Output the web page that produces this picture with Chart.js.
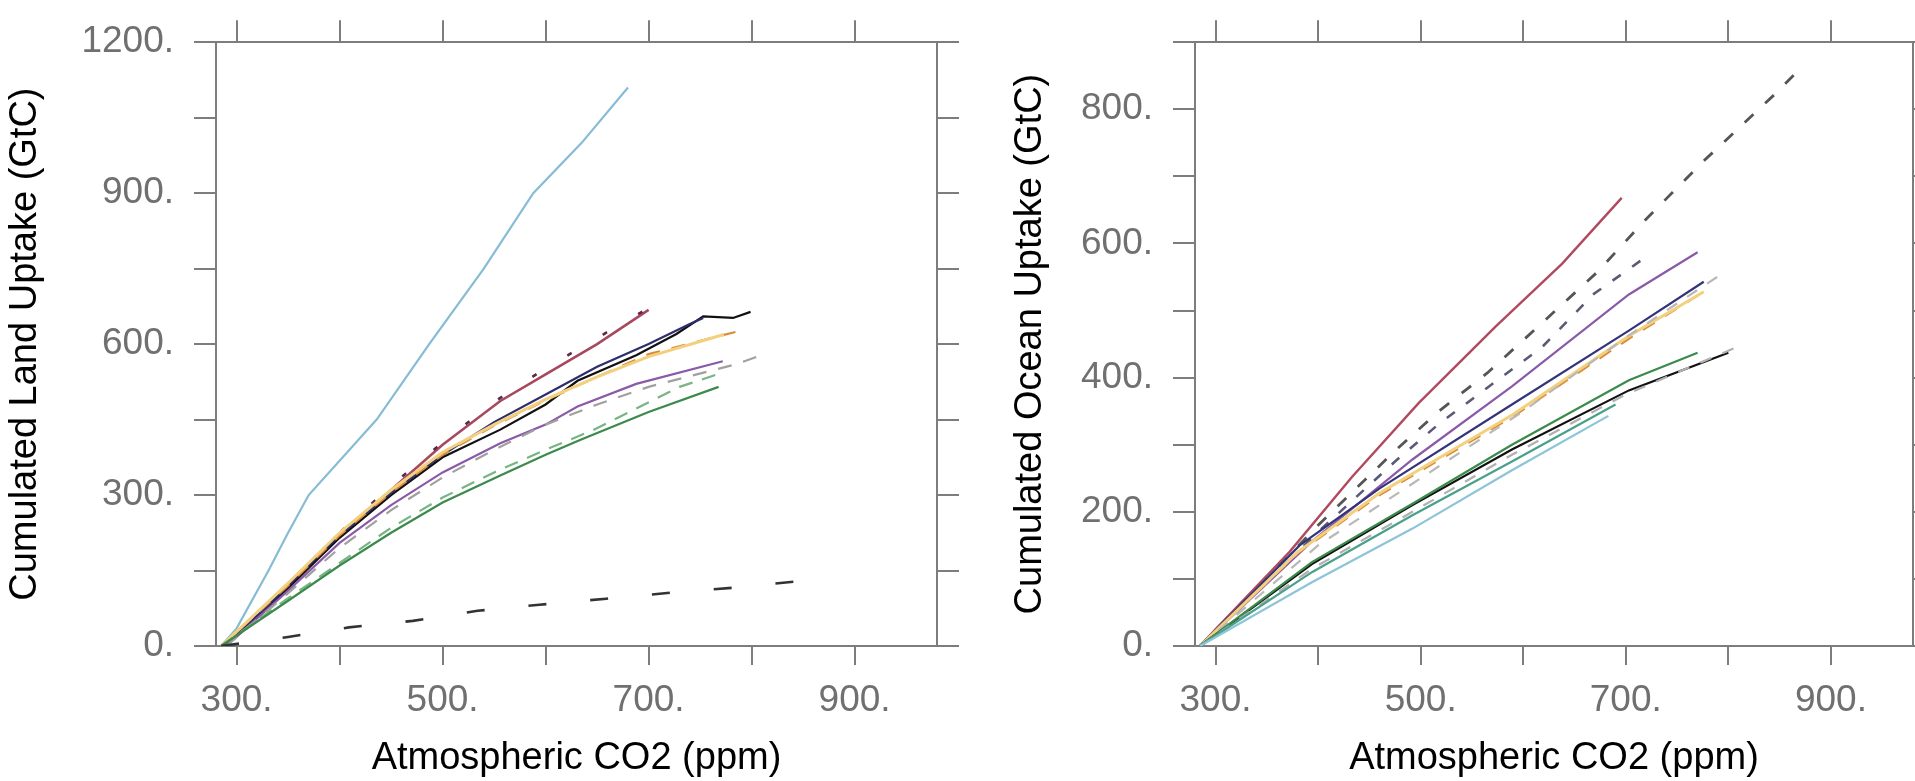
<!DOCTYPE html>
<html>
<head>
<meta charset="utf-8">
<script src="https://cdn.jsdelivr.net/npm/chart.js@4.4.0/dist/chart.umd.min.js"></script>
<style>
  html, body { margin: 0; padding: 0; background: #fff; overflow: hidden; }
  #wrap { position: relative; width: 1915px; height: 781px; overflow: hidden; }
  canvas { position: absolute; top: 0; }
  #land { left: 0; }
  #ocean { left: 980px; }
</style>
</head>
<body>
<div id="wrap">
  <canvas id="land" width="980" height="781"></canvas>
  <canvas id="ocean" width="960" height="781"></canvas>
</div>
<script>
// Ejes
const xTicks = [300, 400, 500, 600, 700, 800, 900];
const landTicks = [0, 150, 300, 450, 600, 750, 900, 1050, 1200];
const oceanTicks = [0, 100, 200, 300, 400, 500, 600, 700, 800, 900];

// Panel izquierdo: absorcion terrestre acumulada (GtC) frente a CO2 (ppm)
const landCyanCO2 = [285, 300, 331, 350, 370, 436, 487, 540, 588, 635, 680];
const landCyanC   = [0, 35, 150, 225, 300, 450, 600, 750, 900, 1000, 1110];
const landMagentaCO2 = [288, 350, 400, 450, 500, 556, 600, 650, 700];
const landMagentaC   = [0, 115, 220, 310, 400, 487, 540, 600, 668];
const landPlumCO2 = [288, 350, 400, 450, 500, 550, 600, 650, 700, 716];
const landPlumC   = [0, 118, 225, 318, 405, 485, 552, 612, 672, 693];
const landBlackCO2 = [290, 350, 400, 450, 500, 556, 600, 631, 688, 727, 753, 782, 799];
const landBlackC   = [0, 115, 215, 300, 375, 430, 480, 527, 578, 620, 655, 652, 664];
const landNavyCO2 = [290, 350, 400, 450, 500, 550, 600, 650, 700, 740, 753];
const landNavyC   = [0, 120, 220, 305, 380, 445, 500, 555, 600, 640, 652];
const landYellowCO2 = [285, 350, 400, 450, 500, 550, 600, 650, 700, 773];
const landYellowC   = [0, 125, 225, 310, 385, 440, 490, 535, 575, 619];
const landOrangeCO2 = [285, 350, 400, 450, 500, 550, 600, 650, 700, 786];
const landOrangeC   = [0, 120, 220, 305, 380, 438, 488, 535, 580, 625];
const landPurpleCO2 = [290, 350, 400, 450, 500, 556, 600, 631, 688, 772];
const landPurpleC   = [0, 110, 205, 280, 345, 403, 440, 476, 521, 566];
const landGrayCO2 = [290, 350, 400, 450, 500, 550, 600, 650, 700, 785, 812];
const landGrayC   = [0, 105, 195, 270, 335, 390, 440, 480, 515, 560, 580];
const landGreenDashCO2 = [285, 350, 400, 450, 500, 550, 600, 646, 701, 730, 767];
const landGreenDashC   = [0, 95, 165, 235, 295, 345, 390, 429, 485, 515, 540];
const landGreenCO2 = [285, 350, 400, 450, 500, 556, 600, 634, 700, 768];
const landGreenC   = [0, 90, 160, 225, 285, 339, 380, 410, 465, 515];
const landBlackDashCO2 = [285, 350, 409, 471, 534, 594, 659, 722, 784, 847, 860];
const landBlackDashC   = [0, 18, 37, 50, 70, 82, 94, 106, 116, 129, 131];

// Panel derecho: absorcion oceanica acumulada (GtC) frente a CO2 (ppm)
const oceanRedCO2 = [285, 300, 372, 433, 498, 573, 638, 696];
const oceanRedC   = [0, 25, 140, 252, 362, 476, 570, 668];
const oceanDashACO2 = [285, 350, 400, 475, 517, 565, 618, 672, 719, 776, 845, 871];
const oceanDashAC   = [0, 100, 180, 291, 349, 407, 481, 557, 635, 723, 822, 862];
const oceanDashBCO2 = [285, 350, 400, 475, 517, 565, 618, 669, 716];
const oceanDashBC   = [0, 95, 170, 275, 330, 385, 445, 525, 576];
const oceanPurpleCO2 = [285, 394, 492, 589, 703, 770];
const oceanPurpleC   = [0, 156, 278, 387, 524, 587];
const oceanNavyCO2 = [285, 382, 460, 589, 703, 776];
const oceanNavyC   = [0, 150, 235, 360, 470, 543];
const oceanYellowCO2 = [285, 380, 460, 590, 703, 776];
const oceanYellowC   = [0, 140, 228, 345, 462, 528];
const oceanOrangeCO2 = [285, 380, 460, 590, 703, 780];
const oceanOrangeC   = [0, 138, 225, 342, 458, 532];
const oceanGrayACO2 = [285, 400, 500, 600, 700, 793];
const oceanGrayAC   = [0, 150, 250, 350, 460, 554];
const oceanBlackCO2 = [285, 394, 492, 589, 703, 800];
const oceanBlackC   = [0, 122, 210, 293, 381, 437];
const oceanGreenCO2 = [285, 394, 492, 589, 703, 770];
const oceanGreenC   = [0, 125, 212, 300, 396, 437];
const oceanGrayBCO2 = [285, 394, 492, 589, 700, 812];
const oceanGrayBC   = [0, 115, 200, 285, 375, 448];
const oceanTealCO2 = [285, 394, 492, 589, 690];
const oceanTealC   = [0, 110, 195, 275, 360];
const oceanCyanCO2 = [285, 394, 492, 589, 683];
const oceanCyanC   = [0, 95, 175, 262, 343];

const FRAME = '#7d7d7d';
const TICKTXT = '#707070';
const FONT = "'Liberation Sans', Arial, sans-serif";

function serie(xs, ys, color, dash, width) {
    return {
        data: xs.map((x, i) => ({ x: x, y: ys[i] })),
        showLine: true,
        borderColor: color,
        borderWidth: width || 2.2,
        borderDash: dash || [],
        pointRadius: 0,
        tension: 0,
        fill: false
    };
}

// Construye las opciones de un panel
function opciones(cfg) {
    const marca = (t) => t.map(v => ({ value: v }));
    const grid = { drawOnChartArea: false, drawTicks: true, tickLength: 22, color: FRAME, lineWidth: 2 };
    const border = { display: true, color: FRAME, width: 2 };
    return {
        responsive: false,
        animation: false,
        layout: { padding: { left: 0, right: cfg.padRight, top: 0, bottom: 0 } },
        plugins: { legend: { display: false }, tooltip: { enabled: false } },
        scales: {
            x: {
                type: 'linear', position: 'bottom', min: 280, max: 980,
                afterBuildTicks: s => { s.ticks = marca(xTicks); },
                afterFit: s => { s.height = 135; },
                grid: { ...grid, tickLength: 19 },
                border: border,
                ticks: {
                    autoSkip: false, maxRotation: 0, padding: 14, color: TICKTXT,
                    font: { family: FONT, size: 37 },
                    callback: v => ((v - 300) % 200 === 0 ? v + '.' : '')
                },
                title: {
                    display: true, text: 'Atmospheric CO2 (ppm)', color: '#000',
                    font: { family: FONT, size: 38 }, padding: { top: 0, bottom: 0 }
                }
            },
            xTop: {
                type: 'linear', position: 'top', min: 280, max: 980,
                afterBuildTicks: s => { s.ticks = marca(xTicks); },
                afterFit: s => { s.height = 33; },
                grid: { ...grid, tickLength: 22 },
                border: border,
                ticks: { display: false }
            },
            y: {
                type: 'linear', position: 'left', min: 0, max: cfg.yMax,
                afterBuildTicks: s => { s.ticks = marca(cfg.yTicks); },
                afterFit: s => { s.width = cfg.leftWidth; },
                grid: grid,
                border: border,
                ticks: {
                    autoSkip: false, padding: 20, color: TICKTXT,
                    font: { family: FONT, size: 37 },
                    callback: v => (v % cfg.labelStep === 0 ? v + '.' : '')
                },
                title: {
                    display: true, text: cfg.yTitle, color: '#000',
                    font: { family: FONT, size: 38 }, padding: { top: cfg.titlePad, bottom: 0 }
                }
            },
            yRight: {
                type: 'linear', position: 'right', min: 0, max: cfg.yMax,
                afterBuildTicks: s => { s.ticks = marca(cfg.yTicks); },
                afterFit: s => { s.width = 22; },
                grid: grid,
                border: border,
                ticks: { display: false }
            }
        }
    };
}

new Chart(document.getElementById('land').getContext('2d'), {
    type: 'scatter',
    data: {
        datasets: [
            serie(landBlackDashCO2, landBlackDashC, '#333333', [18, 44], 2.6),
            serie(landGreenCO2, landGreenC, '#3c8a4c'),
            serie(landGreenDashCO2, landGreenDashC, '#78b484', [14, 10]),
            serie(landGrayCO2, landGrayC, '#a0a0a0', [14, 12]),
            serie(landPurpleCO2, landPurpleC, '#8a5aa8'),
            serie(landYellowCO2, landYellowC, '#f2d07e', null, 3),
            serie(landOrangeCO2, landOrangeC, '#d98c3a', [14, 12]),
            serie(landNavyCO2, landNavyC, '#2e2e6e'),
            serie(landBlackCO2, landBlackC, '#111111'),
            serie(landPlumCO2, landPlumC, '#5a2a48', [5, 36], 2.6),
            serie(landMagentaCO2, landMagentaC, '#a8485f', null, 2.6),
            serie(landCyanCO2, landCyanC, '#86bcd4')
        ]
    },
    options: opciones({
        yMax: 1200, yTicks: landTicks, labelStep: 300,
        yTitle: 'Cumulated Land Uptake (GtC)',
        leftWidth: 216, titlePad: 3, padRight: 21
    })
});

new Chart(document.getElementById('ocean').getContext('2d'), {
    type: 'scatter',
    data: {
        datasets: [
            serie(oceanCyanCO2, oceanCyanC, '#8cc4d8'),
            serie(oceanTealCO2, oceanTealC, '#4aa08a'),
            serie(oceanGrayBCO2, oceanGrayBC, '#b0b0b0', [12, 12]),
            serie(oceanGreenCO2, oceanGreenC, '#3c8a4c'),
            serie(oceanBlackCO2, oceanBlackC, '#111111'),
            serie(oceanGrayACO2, oceanGrayAC, '#b8b8b8', [12, 12]),
            serie(oceanYellowCO2, oceanYellowC, '#f2d07e', null, 3),
            serie(oceanOrangeCO2, oceanOrangeC, '#d98c3a', [14, 12]),
            serie(oceanNavyCO2, oceanNavyC, '#34347a'),
            serie(oceanPurpleCO2, oceanPurpleC, '#8a5aa8'),
            serie(oceanDashBCO2, oceanDashBC, '#5a5a78', [10, 14], 2.6),
            serie(oceanDashACO2, oceanDashAC, '#555555', [12, 16], 2.8),
            serie(oceanRedCO2, oceanRedC, '#b04a5e', null, 2.4)
        ]
    },
    options: opciones({
        yMax: 900, yTicks: oceanTicks, labelStep: 200,
        yTitle: 'Cumulated Ocean Uptake (GtC)',
        leftWidth: 215, titlePad: 28, padRight: 5
    })
});
</script>
</body>
</html>
